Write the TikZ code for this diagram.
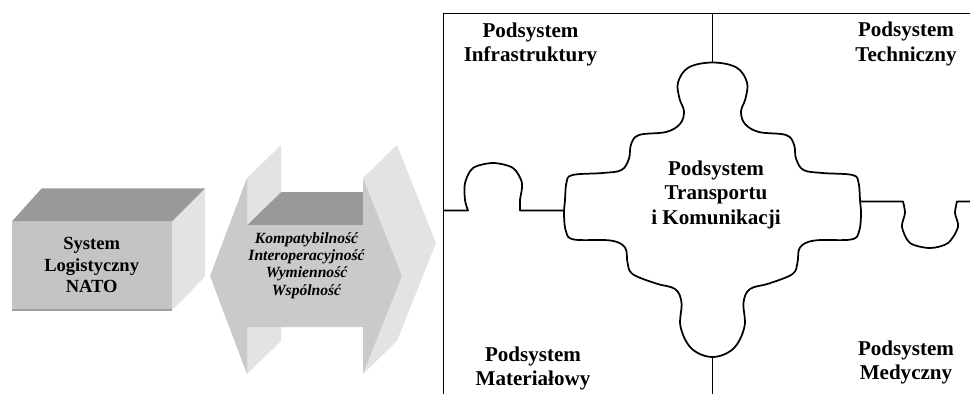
\documentclass[tikz,border=0pt]{standalone}
\usepackage{fontspec}
\setmainfont{Liberation Serif}
\usetikzlibrary{positioning}
\definecolor{facemid}{gray}{0.77}
\definecolor{facedark}{gray}{0.6}
\definecolor{facelight}{gray}{0.89}
\tikzset{%
    piece/.style = {draw, line width=1.3pt, line join=round},
    subsys/.style = {align=center, inner sep=0pt, font=\bfseries\fontsize{15.8}{18.4}\selectfont},
    boxtext/.style = {align=center, inner sep=0pt, font=\bfseries\fontsize{13.9}{16.1}\selectfont},
    arrowtext/.style = {align=center, inner sep=0pt, font=\bfseries\itshape\fontsize{11.7}{13}\selectfont},
}

\begin{document}
\begin{tikzpicture}[x=0.75pt, y=-0.75pt]
        \useasboundingbox (0,0) rectangle (970,394);

        % 3D box
        \fill[facelight] (171.7,221.7) -- (205,188.3) -- (205,276.7) -- (171.7,310.7) -- cycle;
        \fill[facedark] (11.7,221.7) -- (41.7,188.3) -- (205,188.3) -- (171.7,221.7) -- cycle;
        \fill[facemid] (11.7,221.7) rectangle (171.7,310.7);
        \draw[gray!75, line width=1.2pt] (11.7,310) -- (171.7,310);
        \node[boxtext] (logsys) at (91.7,265.2) {System\\Logistyczny\\NATO};

        % 3D double arrow
        \fill[facedark] (247,225) -- (363,225) -- (363,192) -- (281,192) -- cycle;
        \fill[facelight] (247,178) -- (247,225) -- (281,192) -- (281,145) -- cycle;
        \fill[facelight] (247,327) -- (247,374) -- (281,341) -- (281,294) -- cycle;
        \fill[facelight] (363,178) -- (402,276) -- (436,243) -- (397,145) -- cycle;
        \fill[facelight] (402,276) -- (363,374) -- (397,341) -- (436,243) -- cycle;
        \fill[facemid!90!white] (210,276) -- (247,178) -- (247,225) -- (363,225) -- (363,178)
            -- (402,276) -- (363,374) -- (363,327) -- (247,327) -- (247,374) -- cycle;
        \node[arrowtext] (std) at (306.5,265.4)
            {Kompatybilność\\Interoperacyjność\\Wymienność\\Wspólność};

        % puzzle frame and seams
        \draw[piece] (443.5,394) -- (443.5,13.5) -- (970,13.5);
        \draw[piece] (712.5,13.5) -- (712.5,62.5);
        \draw[piece] (712.5,356.5) -- (712.5,394);
        \draw[piece] (443.5,210.5) -- (468,210.5) -- plot[smooth] coordinates
            {(468,210.5) (465,200) (465,183) (473,168) (493,163) (513,168) (522,183) (520,200) (520,210.5)}
            -- (564,210.5);
        \draw[piece] (860,201.5) -- (903,201.5) -- plot[smooth] coordinates
            {(903,201.5) (905,213) (902,227) (910,243) (930,248) (948,243) (958,227) (955,213) (957,201.5)}
            -- (970,201.5);

        % central piece
        \begin{scope}[shift={(712.5,209.5)}]
            \draw[piece] plot[smooth cycle, tension=0.6] coordinates {
                (0,-147) (24,-142) (34.5,-127) (33,-111) (28.5,-98) (32.5,-85.5) (46.5,-77.5)
                (73.5,-74.5) (81.5,-65) (83.5,-51) (91,-39.5) (110,-36.5) (140,-34.5) (146,-27) (147.5,-9.5)
                (148.5,5) (146.5,22) (138.5,30) (102,31) (87.5,38) (85,53) (80,64.5) (56.5,74)
                (37.5,79.5) (31,93) (32,117) (21,139) (0,147.5)
                (-21,139) (-32,117) (-31,93) (-37.5,79.5) (-56.5,74) (-80,64.5) (-85,53) (-87.5,38)
                (-102,31) (-138.5,30) (-146.5,22) (-148.5,5)
                (-147.5,-9.5) (-146,-27) (-140,-34.5) (-110,-36.5) (-91,-39.5) (-83.5,-51) (-81.5,-65)
                (-73.5,-74.5) (-46.5,-77.5) (-32.5,-85.5) (-28.5,-98) (-33,-111) (-34.5,-127) (-24,-142)};
        \end{scope}

        \node[subsys] (transp) at (716,194.6) {Podsystem\\Transportu\\i Komunikacji};
        \node[subsys] (infra) at (530.5,44.6) {Podsystem\\Infrastruktury};
        \node[subsys] (tech) at (906,44) {Podsystem\\Techniczny};
        \node[subsys] (mat) at (533,368.6) {Podsystem\\Materiałowy};
        \node[subsys] (med) at (906,362.6) {Podsystem\\Medyczny};
    \end{tikzpicture}
\end{document}
